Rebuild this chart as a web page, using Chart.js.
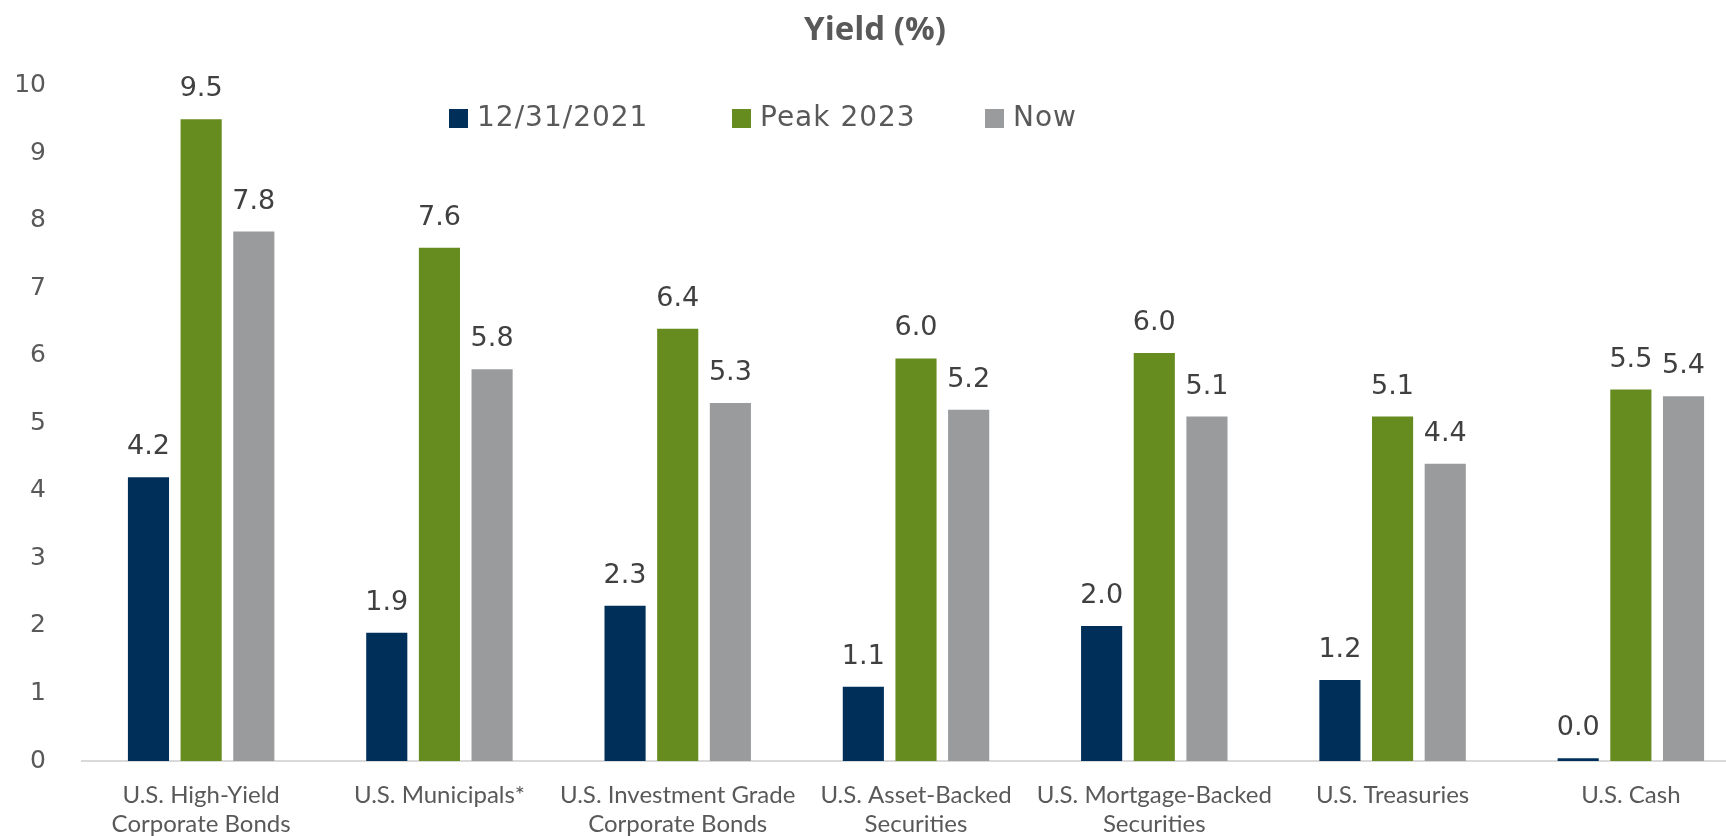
<!DOCTYPE html>
<html>
<head>
<meta charset="utf-8">
<title>Yield (%)</title>
<script src="https://cdn.jsdelivr.net/npm/chart.js@4.4.1/dist/chart.umd.min.js"></script>
<style>
    html, body { margin: 0; padding: 0; background: #ffffff; overflow: hidden; }
    /* le graphique déborde un peu à droite, comme sur l'original */
    #conteneur { position: absolute; left: 0; top: 0; width: 1750px; height: 836px; }
</style>
</head>
<body>
<div id="conteneur"><canvas id="graphique"></canvas></div>
<script>
/********************/
/* Données globales */
/********************/
var categories = [
    ["U.S. High-Yield", "Corporate Bonds"],
    ["U.S. Municipals*"],
    ["U.S. Investment Grade", "Corporate Bonds"],
    ["U.S. Asset-Backed", "Securities"],
    ["U.S. Mortgage-Backed", "Securities"],
    ["U.S. Treasuries"],
    ["U.S. Cash"]
];
var nomsSeries = ["12/31/2021", "Peak 2023", "Now"];
var valeurs2021 = [4.2, 1.9, 2.3, 1.1, 2.0, 1.2, 0.04];
var valeursPic2023 = [9.5, 7.6, 6.4, 5.96, 6.04, 5.1, 5.5];
var valeursMaintenant = [7.84, 5.8, 5.3, 5.2, 5.1, 4.4, 5.4];
var graduationsY = [0, 1, 2, 3, 4, 5, 6, 7, 8, 9, 10];

//Couleurs des séries
var couleurs = ["#00305A", "#668B1E", "#9A9B9D"];
var couleurTexte = "#595959";

/****************************************/
/* Plugin : valeurs au-dessus des barres */
/****************************************/
var pluginEtiquettes = {
    id: 'etiquettesValeurs',
    afterDatasetsDraw: function(chart) {
        var ctx = chart.ctx;
        ctx.save();
        ctx.font = '27px "DejaVu Sans"';
        ctx.fillStyle = '#404040';
        ctx.textAlign = 'center';
        ctx.textBaseline = 'middle';
        chart.data.datasets.forEach(function(dataset, i) {
            var meta = chart.getDatasetMeta(i);
            meta.data.forEach(function(barre, j) {
                //valeur arrondie à une décimale, 30px au-dessus du haut de la barre
                ctx.fillText(dataset.data[j].toFixed(1), barre.x, barre.y - 30);
            });
        });
        ctx.restore();
    }
};

/*******************************************/
/* Plugin : légende dans la zone du tracé */
/*******************************************/
var pluginLegende = {
    id: 'legendeInterne',
    afterDraw: function(chart, args, opts) {
        var ctx = chart.ctx;
        ctx.save();
        ctx.font = opts.police;
        ctx.letterSpacing = '1px';
        ctx.textAlign = 'left';
        ctx.textBaseline = 'middle';
        chart.data.datasets.forEach(function(dataset, i) {
            var x = opts.positions[i];
            //carré de couleur
            ctx.fillStyle = dataset.backgroundColor;
            ctx.fillRect(x, opts.y - 9, 19, 19);
            //libellé
            ctx.fillStyle = couleurTexte;
            ctx.fillText(dataset.label, x + 28, opts.y + 1);
        });
        ctx.restore();
    }
};

/**********************/
/* Création du graphe */
/**********************/
var ctx = document.getElementById('graphique').getContext('2d');
var graphique = new Chart(ctx, {
    type: 'bar',
    data: {
        labels: categories,
        datasets: [
            { label: nomsSeries[0], data: valeurs2021, backgroundColor: couleurs[0] },
            { label: nomsSeries[1], data: valeursPic2023, backgroundColor: couleurs[1] },
            { label: nomsSeries[2], data: valeursMaintenant, backgroundColor: couleurs[2] }
        ]
    },
    options: {
        responsive: true,
        maintainAspectRatio: false,
        devicePixelRatio: 1,
        animation: false,
        datasets: {
            bar: {
                categoryPercentage: 0.663,
                barPercentage: 0.781,
                borderWidth: 0
            }
        },
        layout: { padding: 0 },
        plugins: {
            title: {
                display: true,
                text: 'Yield (%)',
                color: couleurTexte,
                font: { family: '"Open Sans"', size: 33, weight: 'bold' },
                padding: { top: 11, bottom: 35 }
            },
            legend: { display: false },
            tooltip: { enabled: false },
            legendeInterne: {
                positions: [449, 732, 985],
                y: 118,
                police: '28px "DejaVu Sans"'
            }
        },
        scales: {
            x: {
                grid: { display: false, drawTicks: false },
                border: { display: true, color: '#D9D9D9', width: 2 },
                ticks: {
                    color: couleurTexte,
                    font: { family: 'Lato', size: 24, lineHeight: 1.2 },
                    padding: 20,
                    maxRotation: 0,
                    autoSkip: false
                },
                afterFit: function(echelle) { echelle.height = 75; }
            },
            y: {
                min: graduationsY[0],
                max: graduationsY[graduationsY.length - 1],
                grid: { display: false, drawTicks: false },
                border: { display: false },
                ticks: {
                    stepSize: 1,
                    color: couleurTexte,
                    font: { family: '"DejaVu Sans"', size: 25 },
                    padding: 36
                },
                afterFit: function(echelle) { echelle.width = 82; }
            }
        }
    },
    plugins: [pluginEtiquettes, pluginLegende]
});
</script>
</body>
</html>
